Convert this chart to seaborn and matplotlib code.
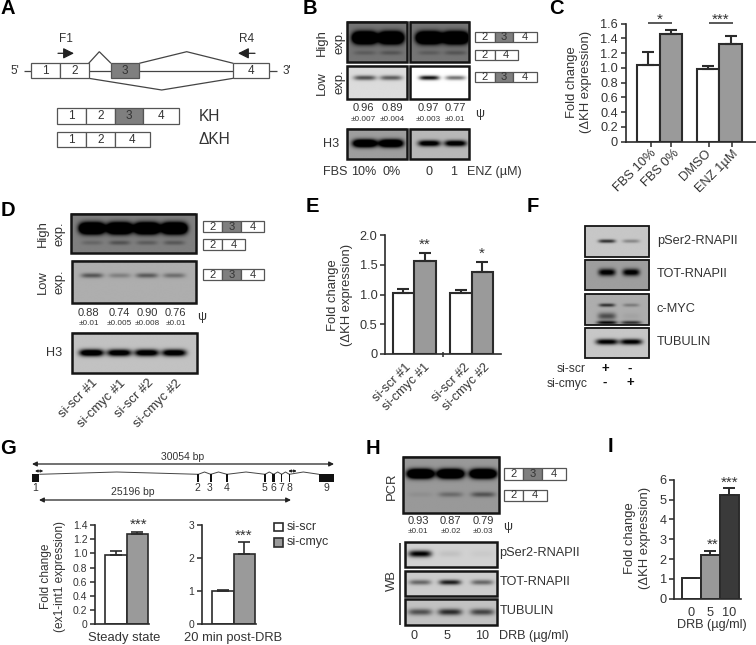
import numpy as np
import matplotlib
matplotlib.use('Agg')
import matplotlib.pyplot as plt
from matplotlib.patches import Rectangle
import seaborn as sns

sns.set_style('ticks')
plt.rcParams['font.family'] = ['Liberation Sans', 'DejaVu Sans']
plt.rcParams['axes.unicode_minus'] = False

W, H = 756, 645
INK = '#2b2b2b'
TXT = '#333333'
GREY = '#9a9a9a'
EXON = '#7f7f7f'

# bar chart values
c_labels = ['FBS 10%', 'FBS 0%', 'DMSO', 'ENZ 1µM']
c_values = [1.04, 1.46, 0.99, 1.33]
c_errors = [0.18, 0.05, 0.04, 0.10]
e_labels = ['si-scr #1', 'si-cmyc #1', 'si-scr #2', 'si-cmyc #2']
e_values = [1.02, 1.57, 1.02, 1.39]
e_errors = [0.07, 0.14, 0.05, 0.16]
g1_values = [0.98, 1.27]
g1_errors = [0.05, 0.03]
g2_values = [1.02, 2.13]
g2_errors = [0.02, 0.36]
i_labels = ['0', '5', '10']
i_values = [1.03, 2.19, 5.22]
i_errors = [0.03, 0.21, 0.35]

# psi tables
b_psi = ['0.96', '0.89', '0.97', '0.77']
b_psi_err = ['±0.007', '±0.004', '±0.003', '±0.01']
d_psi = ['0.88', '0.74', '0.90', '0.76']
d_psi_err = ['±0.01', '±0.005', '±0.008', '±0.01']
h_psi = ['0.93', '0.87', '0.79']
h_psi_err = ['±0.01', '±0.02', '±0.03']

# band strengths per lane
b_high_minor = [0.10, 0.13, 0.10, 0.13]
b_low_left = [0.55, 0.50]
b_low_right = [0.95, 0.55]
d_high_minor = [0.10, 0.18, 0.14, 0.16]
d_low = [0.35, 0.18, 0.33, 0.25]
f_pser2 = [0.60, 0.25]
f_tot = [0.70, 0.70]
f_myc = [0.50, 0.20]
f_tub = [0.85, 0.85]
h_minor = [0.04, 0.18, 0.28]
h_pser2 = [0.85, 0.06, 0.03]
h_tot = [0.40, 0.70, 0.40]
h_tub = [0.45, 0.60, 0.50]

fig = plt.figure(figsize=(W / 100, H / 100), dpi=100, facecolor='white')
ov = fig.add_axes([0, 0, 1, 1], zorder=0)
ov.axis('off')


def t(x, y, s, fs=9.1, **kw):
    kw.setdefault('ha', 'center')
    kw.setdefault('va', 'center')
    kw.setdefault('color', TXT)
    ov.text(x, y, s, fontsize=fs, **kw)


def line(xs, ys, lw=0.9, color='#444444'):
    ov.plot(xs, ys, color=color, lw=lw, solid_capstyle='butt', solid_joinstyle='miter')


def arrow(x0, x1, y, style='-|>', ms=7, lw=0.9):
    ov.annotate('', xy=(x1, y), xytext=(x0, y),
                arrowprops=dict(arrowstyle=style, color='#222222', lw=lw, mutation_scale=ms,
                                shrinkA=0, shrinkB=0))


def boxes(edges, y0, y1, labels, dark=None, fs=8.5, lw=0.9):
    for i, lab in enumerate(labels):
        fc = EXON if dark == i else 'white'
        ov.add_patch(Rectangle((edges[i], y0), edges[i + 1] - edges[i], y1 - y0,
                               fc=fc, ec='#555555', lw=lw, zorder=3))
        t((edges[i] + edges[i + 1]) / 2, (y0 + y1) / 2, lab, fs, zorder=4)


def gel(x0, y0, x1, y1, bg, bands, lw=1.8):
    # smooth blot picture: background minus soft bands
    xs = np.linspace(x0, x1, int((x1 - x0) * 3))
    ys = np.linspace(y0, y1, int((y1 - y0) * 3))
    xx, yy = np.meshgrid(xs, ys)
    img = np.full(xx.shape, float(bg))
    for cx, cy, hw, hh, amp in bands:
        img -= amp * np.exp(-((xx - cx) / hw) ** 4 - ((yy - cy) / hh) ** 2)
    ov.imshow(np.clip(img, 0, 1), cmap='gray', vmin=0, vmax=1, aspect='auto',
              extent=(x0, x1, y1, y0), interpolation='bilinear', zorder=1)
    ov.add_patch(Rectangle((x0, y0), x1 - x0, y1 - y0, fc='none', ec='#151515', lw=lw, zorder=2))


def lanes(centers, y, hw, hh, amps):
    return [(c, y, hw, hh, a) for c, a in zip(centers, amps)]


def bar_axes(x0, x1, ytop, ybot, ymax, left, bw):
    ax = fig.add_axes([x0 / W, 1 - ybot / H, (x1 - x0) / W, (ybot - ytop) / H], zorder=2)
    ax.patch.set_alpha(0)
    ax._lims = (((x0 - left) / bw, (x1 - left) / bw), (0, ymax))
    return ax


def draw_bars(ax, slots, values, errors, colors, lw=1.4):
    for s, v, e, c in zip(slots, values, errors, colors):
        sns.barplot(x=[s + 0.5], y=[v], native_scale=True, width=1, color=c, saturation=1,
                    edgecolor=INK, linewidth=lw, errorbar=None, ax=ax)
        ax.errorbar(s + 0.5, v, yerr=[[0], [e]], color=INK, capsize=4, elinewidth=lw,
                    capthick=lw, zorder=1)
    ax.set_xlim(*ax._lims[0])
    ax.set_ylim(*ax._lims[1])
    sns.despine(ax=ax)
    for sp in ax.spines.values():
        sp.set_linewidth(1.2)
        sp.set_color(INK)
    ax.tick_params(length=3.5, width=1.1, color=INK, labelcolor=TXT, pad=2)
    ax.set_xlabel('')
    ax.set_ylabel('')


# ---- panel letters
for x, y, s in [(8, 9, 'A'), (310, 9, 'B'), (556, 9, 'C'), (8, 211, 'D'), (312, 207, 'E'),
                (533, 207, 'F'), (8, 448, 'G'), (373, 448, 'H'), (610, 447, 'I')]:
    t(x, y, s, 14.5, fontweight='bold', color='black')

# ---- A
t(65.7, 39, 'F1', 8.5)
t(246.3, 39, 'R4', 8.5)
arrow(58, 74, 53.3, ms=16)
arrow(255, 238, 53.3, ms=16)
t(15, 70.7, "5'", 8.5)
t(287, 70.7, "3'", 8.5)
line([24, 277], [70.7, 70.7])
line([88.7, 99.3, 111], [63.3, 51.7, 63.3])
line([139.3, 186.7, 233.3], [63.3, 51.7, 63.3])
line([88.7, 161.7, 233.3], [78.3, 90, 78.3])
boxes([31, 60, 88.7], 63.3, 78.3, ['1', '2'])
boxes([111, 139.3], 63.3, 78.3, ['3'], dark=0)
boxes([233.3, 269.3], 63.3, 78.3, ['4'])
boxes([57.3, 86, 114.7, 143.3, 178.7], 108.3, 124, ['1', '2', '3', '4'], dark=2)
boxes([57.3, 86, 114.7, 150], 132, 147.3, ['1', '2', '4'])
t(198.3, 116.7, 'KH', 11.2, ha='left')
t(198.3, 140, 'ΔKH', 11.2, ha='left')

# ---- B
bl = [365, 391]
br = [429, 455]
gel(347.3, 21.7, 406.7, 62.3, 0.46, lanes(bl, 38.3, 12, 5.5, [1.5, 1.5]) + lanes(bl, 53.3, 11, 2.2, b_high_minor[:2]))
gel(410, 21.7, 469.3, 62.3, 0.46, lanes(br, 38.3, 12.5, 5.5, [1.5, 1.5]) + lanes(br, 53.3, 11, 2.2, b_high_minor[2:]))
gel(347.3, 66, 406.7, 99.3, 0.86, lanes(bl, 78.5, 11, 2.4, b_low_left))
gel(410, 66, 469.3, 99.3, 1.0, lanes(br, 78.5, 10, 2.2, b_low_right))
gel(347.3, 129, 406.7, 159.3, 0.62, lanes(bl, 144, 12, 3.8, [1.2, 1.2]))
gel(410, 129, 469.3, 159.3, 0.72, lanes(br, 144, 11, 3.0, [0.9, 0.9]))
for x, y, s in [(322.3, 42.7, 'High'), (339, 41.7, 'exp.'), (322.3, 82.7, 'Low'), (339, 81.7, 'exp.')]:
    t(x, y, s, 9.4, rotation=90)
t(331, 144, 'H3', 9.1)
for x, v, e in zip([363.3, 392.3, 428.7, 455], b_psi, b_psi_err):
    t(x, 108.3, v, 8)
    t(x, 119.3, e, 5.9)
t(480, 114, 'ψ', 9)
for x, s in [(335, 'FBS'), (363.7, '10%'), (391.3, '0%'), (428.7, '0'), (453.3, '1'), (494, 'ENZ (µM)')]:
    t(x, 172.3, s, 9.1)
boxes([475.3, 494.7, 513.3, 536.7], 32.3, 42.3, ['2', '3', '4'], dark=1, fs=8)
boxes([475.3, 494.7, 517.5], 49.7, 60.3, ['2', '4'], fs=8)
boxes([475.3, 494.7, 513.3, 536.7], 72.3, 82.3, ['2', '3', '4'], dark=1, fs=8)

# ---- C
ax = bar_axes(625.7, 756, 23.7, 141.7, 1.6, 636.7, 22.8)
draw_bars(ax, [0, 1, 2.63, 3.63], c_values, c_errors, ['white', GREY, 'white', GREY], lw=1.5)
ax.set_yticks(np.arange(0, 1.7, 0.2), ['0', '0.2', '0.4', '0.6', '0.8', '1.0', '1.2', '1.4', '1.6'], fontsize=9.2)
ax.set_xticks([0.63, 1.5, 3.16, 4.17], [''] * 4)
for x, s in zip([650, 673, 705, 732], c_labels):
    t(x, 147.5, s, 9.3, rotation=45, ha='right', va='top', rotation_mode='anchor')
t(579, 81.7, 'Fold change\n(ΔKH expression)', 9.4, rotation=90, linespacing=1.3)
t(659.3, 19.5, '*', 11)
t(721, 19.5, '***', 11)
line([647.7, 671.7], [23.3, 23.3], 1.1, INK)
line([709, 732.7], [23.3, 23.3], 1.1, INK)

# ---- D
dx = [91.7, 119.3, 146.7, 174]
gel(70.7, 214, 195.7, 253.3, 0.5, lanes(dx, 229, 12.5, 5.2, [1.5] * 4) + lanes(dx, 243.3, 10.5, 2.2, d_high_minor))
gel(71.7, 260.7, 195.7, 303.3, 0.68, lanes(dx, 276, 11, 2.4, d_low))
gel(72.3, 332.7, 196.7, 373.3, 0.76, lanes(dx, 353.3, 12, 3.4, [1.1, 1.0, 1.0, 1.0]))
for x, y, s in [(43.3, 234, 'High'), (59.3, 234, 'exp.'), (43.3, 281.7, 'Low'), (59.3, 281.7, 'exp.')]:
    t(x, y, s, 9.4, rotation=90)
t(54, 352.7, 'H3', 9.1)
for x, v, e in zip([88.7, 119.3, 147.3, 175.7], d_psi, d_psi_err):
    t(x, 312.7, v, 8)
    t(x, 323.3, e, 5.9)
t(201.7, 317.3, 'ψ', 9)
for x, s in zip([92, 120, 147.7, 176], e_labels):
    t(x, 377, s, 9.4, rotation=45, ha='right', va='top', rotation_mode='anchor')
boxes([202.7, 222, 240.7, 264.3], 221, 232, ['2', '3', '4'], dark=1, fs=8)
boxes([202.7, 222, 245.3], 239, 250, ['2', '4'], fs=8)
boxes([202.7, 222, 240.7, 264.3], 269.3, 280.3, ['2', '3', '4'], dark=1, fs=8)

# ---- E
ax = bar_axes(385, 500.7, 235.3, 354, 2.0, 392.7, 21.4)
draw_bars(ax, [0, 1, 2.69, 3.69], e_values, e_errors, ['white', GREY, 'white', GREY], lw=1.5)
ax.set_yticks([0, 0.5, 1, 1.5, 2], ['0', '0.5', '1.0', '1.5', '2.0'], fontsize=9.2)
ax.set_xticks([])
t(340, 295, 'Fold change\n(ΔKH expression)', 9.4, rotation=90, linespacing=1.3)
t(424.3, 245, '**', 11)
t(482, 254, '*', 11)
for x, s in zip([405, 424, 464, 484], e_labels):
    t(x, 361, s, 9.2, rotation=45, ha='right', va='top', rotation_mode='anchor')
line([443.3, 443.3], [352, 357], 1.1, INK)

# ---- F
fx = [606.7, 630.7]
gel(585, 226, 649.3, 256.7, 0.78, lanes(fx, 241, 8.5, 1.8, f_pser2), lw=1.3)
gel(585, 260, 649.3, 290.3, 0.62, lanes(fx, 273, 8.5, 3.5, f_tot), lw=1.3)
gel(585, 294, 649.3, 324.7, 0.68, lanes(fx, 305, 8, 1.7, f_myc) + lanes(fx, 316, 9, 3.5, [0.38, 0.04]) + lanes(fx, 322.5, 10, 1.8, [0.65, 0.50]), lw=1.3)
gel(585, 328, 649.3, 358.3, 0.78, lanes(fx, 342.5, 11, 2.8, f_tub), lw=1.3)
for y, s in zip([240.7, 274.3, 308.7, 342.3], ['pSer2-RNAPII', 'TOT-RNAPII', 'c-MYC', 'TUBULIN']):
    t(656.7, y, s, 9.2, ha='left')
t(585.7, 369.3, 'si-scr', 8.7, ha='right')
t(587.7, 383.7, 'si-cmyc', 8.7, ha='right')
for x, a, b in [(605, '+', '-'), (630, '-', '+')]:
    t(x, 369, a, 9.5, fontweight='bold', color='#111111')
    t(x, 383, b, 9.5, fontweight='bold', color='#111111')

# ---- G
arrow(32, 334, 464, '<|-|>')
arrow(39, 291, 500, '<|-|>')
t(182.7, 456.5, '30054 bp', 7.5)
t(132.7, 492.3, '25196 bp', 7.5)
ex = [198.3, 210.7, 227, 265, 273.7, 281.7, 289.3]
nodes = [39.3] + ex + [319]
peaks = [116.7, 204.5, 218.5, 246, 269.3, 277.7, 285.5, 303.3]
for i in range(8):
    line([nodes[i], peaks[i], nodes[i + 1]], [474.3, 472, 474.3], 0.7)
ov.add_patch(Rectangle((32, 474.3), 7.3, 7.4, fc='#111111', ec='none', zorder=2))
ov.add_patch(Rectangle((319, 474.3), 15, 7.4, fc='#111111', ec='none', zorder=2))
for x, w in zip(ex, [2, 2.4, 2.6, 2.2, 2.6, 1, 1]):
    ov.add_patch(Rectangle((x - w / 2, 474.3), w, 7.4, fc='#111111', ec='none', zorder=2))
for x, s in zip([35, 197.3, 210, 226.3, 264.3, 273.3, 281, 289.3, 326.7], '123456789'):
    t(x, 488.3, s, 7.5)
arrow(35, 43.3, 471, '<|-|>', ms=3.5, lw=0.8)
arrow(288.3, 296.7, 471, '<|-|>', ms=3.5, lw=0.8)

ax = bar_axes(95, 148.5, 525, 624.3, 1.4, 105.3, 21.2)
draw_bars(ax, [0, 1], g1_values, g1_errors, ['white', GREY], lw=1.2)
ax.set_yticks(np.arange(0, 1.5, 0.2), ['0', '0.2', '0.4', '0.6', '0.8', '1.0', '1.2', '1.4'], fontsize=7.5)
ax.set_xticks([])
ax = bar_axes(201.7, 256, 525, 624.3, 3, 212.3, 21.3)
draw_bars(ax, [0, 1], g2_values, g2_errors, ['white', GREY], lw=1.2)
ax.set_yticks([0, 1, 2, 3], ['0', '1', '2', '3'], fontsize=7.5)
ax.set_xticks([])
t(53.3, 576.7, 'Fold change\n(ex1-int1 expression)', 8.6, rotation=90, linespacing=1.25)
t(124, 638, 'Steady state', 9.4)
t(233.3, 638, '20 min post-DRB', 9.3)
t(139, 524.5, '***', 11)
t(244, 536, '***', 11)
ov.add_patch(Rectangle((273.5, 522.7), 9.5, 8.5, fc='white', ec=INK, lw=1.2, zorder=3))
ov.add_patch(Rectangle((273.5, 538), 9.5, 8.5, fc=GREY, ec=INK, lw=1.2, zorder=3))
t(287, 526.7, 'si-scr', 9, ha='left')
t(287, 542.3, 'si-cmyc', 9, ha='left')

# ---- H
hx = [420, 450, 482.3]
gel(402.7, 456.7, 499, 513.3, 0.6, lanes(hx, 474.3, 13, 4.4, [1.5, 1.5, 1.5]) + lanes(hx, 495, 12, 2.6, h_minor))
gel(405, 541.7, 497, 566.7, 0.82, lanes(hx, 553.5, 11.5, 3.4, h_pser2))
gel(405, 570.7, 497, 595.7, 0.8, lanes(hx, 582, 11, 2.6, h_tot))
gel(405, 599.3, 497, 624.7, 0.76, lanes(hx, 612, 12, 3.2, h_tub))
t(391.7, 486, 'PCR', 9.4, rotation=90)
t(391.7, 580.7, 'WB', 9.4, rotation=90)
line([400, 400], [542.7, 625], 1.2, '#222222')
for x, v, e in zip([418.3, 450.7, 483.3], h_psi, h_psi_err):
    t(x, 520.7, v, 8)
    t(x, 531.7, e, 5.9)
t(507.3, 526.7, 'ψ', 9)
for y, s in zip([553.3, 581.7, 611], ['pSer2-RNAPII', 'TOT-RNAPII', 'TUBULIN']):
    t(499.3, y, s, 9.2, ha='left')
for x, s in [(414.3, '0'), (446.7, '5'), (482.3, '10')]:
    t(x, 635.7, s, 9.1)
t(499, 635.7, 'DRB (µg/ml)', 9.1, ha='left')
boxes([504, 523.3, 542.3, 565.7], 468.3, 479.7, ['2', '3', '4'], dark=1, fs=8)
boxes([504, 523.3, 546.7], 490, 500.7, ['2', '4'], fs=8)

# ---- I
ax = bar_axes(674.3, 741, 479.7, 598.7, 6, 681.7, 19.1)
draw_bars(ax, [0, 1, 2], i_values, i_errors, ['white', '#999999', '#3a3a3a'], lw=1.4)
ax.set_yticks(range(7), [str(v) for v in range(7)], fontsize=9.2)
ax.set_xticks([0.5, 1.5, 2.5], i_labels, fontsize=9.2)
ax.tick_params(axis='x', length=0, pad=6)
t(637.3, 538.3, 'Fold change\n(ΔKH expression)', 9.4, rotation=90, linespacing=1.3)
t(711.7, 625, 'DRB (µg/ml)', 9.1)
t(712.7, 545, '**', 11)
t(729.3, 482.5, '***', 11)

ov.set_xlim(0, W)
ov.set_ylim(H, 0)
fig.savefig('out.png', dpi=100)
